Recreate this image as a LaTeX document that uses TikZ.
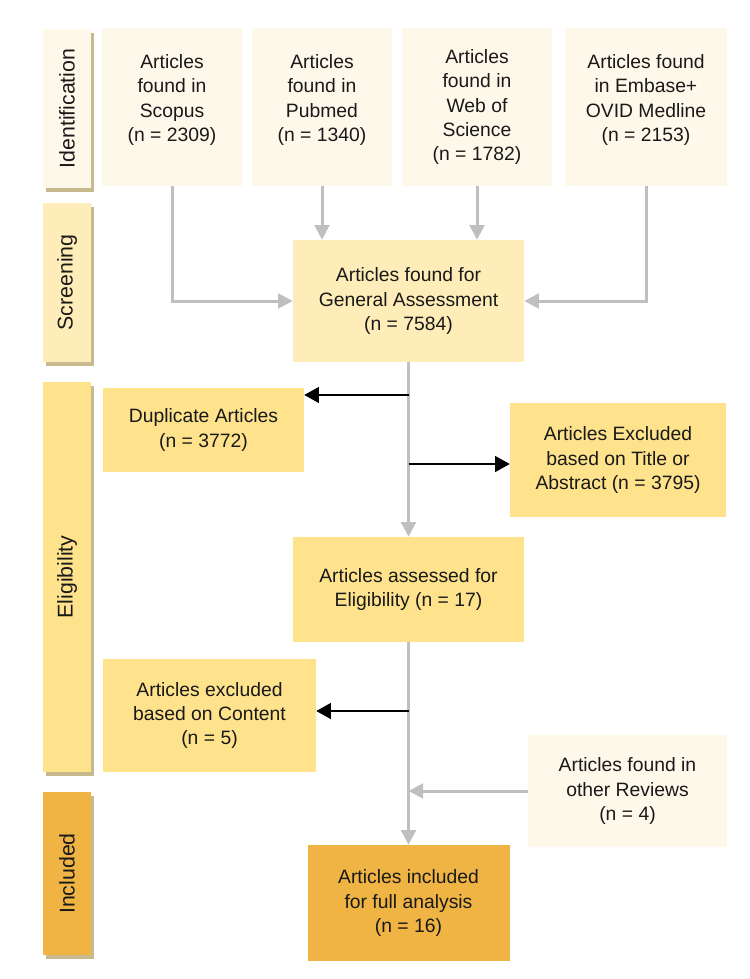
\documentclass[tikz,border=0pt]{standalone}
\usepackage{graphicx}
\usepackage{fontspec}
\setmainfont{Liberation Sans}
\usepackage{tikz}
\usetikzlibrary{arrows.meta, positioning, shadows, calc}

\definecolor{creamfill}{HTML}{FEF8EA}
\definecolor{palefill}{HTML}{FEEDB8}
\definecolor{midfill}{HTML}{FEE28C}
\definecolor{darkfill}{HTML}{EFB443}
\definecolor{tanshadow}{HTML}{C8B98F}
\definecolor{flowgray}{HTML}{BFBFBF}

\begin{document}
\begin{tikzpicture}[
    x=0.75pt, y=-0.75pt,
    boxsize/.style args={#1x#2}{minimum width=#1*0.75pt, minimum height=#2*0.75pt},
    box/.style={rectangle, inner sep=2pt, align=center, text=black!90, font=\fontsize{14.5}{18.3}\selectfont},
    stage/.style={box, font=\fontsize{16}{19}\selectfont, drop shadow={shadow xshift=2.5pt, shadow yshift=-3pt, fill=tanshadow, opacity=1}},
    source/.style={box, fill=creamfill},
    grayline/.style={draw=flowgray, line width=2.25pt, -{Triangle[length=11pt, width=11pt]}},
    blackline/.style={draw=black, line width=0.9pt, -{Triangle[length=11pt, width=12pt]}}
]
    \useasboundingbox (0,0) rectangle (750,979);

    % stages
    \node[stage, fill=creamfill, boxsize=48x159] (identification) at (67,108.5) {\rotatebox{90}{Identification}};
    \node[stage, fill=palefill, boxsize=48x159] (screening) at (67,282.5) {\rotatebox{90}{Screening}};
    \node[stage, fill=midfill, boxsize=48x390] (eligibility) at (67,577) {\rotatebox{90}{Eligibility}};
    \node[stage, fill=darkfill, boxsize=48x163] (includedstage) at (67,873.5) {\rotatebox{90}{Included}};

    % databases
    \node[source, boxsize=140x158] (scopus) at (172,107) {Articles\\found in\\Scopus\\(n = 2309)\\[-10pt]\strut};
    \node[source, boxsize=140x158] (pubmed) at (322,107) {Articles\\found in\\Pubmed\\(n = 1340)\\[-10pt]\strut};
    \node[source, boxsize=150x158] (wos) at (477,107) {Articles\\found in\\Web of\\Science\\(n = 1782)};
    \node[source, boxsize=162x158] (embase) at (646,107) {Articles found\\in Embase+\\OVID Medline\\(n = 2153)\\[-10pt]\strut};

    \node[box, fill=palefill, boxsize=231x122] (general) at (408.5,301) {Articles found for\\General Assessment\\(n = 7584)};
    \node[box, fill=midfill, boxsize=201x84] (duplicate) at (203.5,430) {Duplicate Articles\\(n = 3772)};
    \node[box, fill=midfill, boxsize=216x114] (titleexcl) at (618,460) {Articles Excluded\\based on Title or\\Abstract (n = 3795)};
    \node[box, fill=midfill, boxsize=231x105] (assessed) at (408.5,589.5) {Articles assessed for\\Eligibility (n = 17)};
    \node[box, fill=midfill, boxsize=213x113] (contentexcl) at (209.5,715.5) {Articles excluded\\based on Content\\(n = 5)};
    \node[source, boxsize=199x112] (reviews) at (627.5,791) {Articles found in\\other Reviews\\(n = 4)};
    \node[box, fill=darkfill, boxsize=202x116] (final) at (408.5,903) {Articles included\\for full analysis\\(n = 16)};

    \coordinate (tap1) at (general.south |- 0,395);
    \coordinate (tap2) at (general.south |- 0,464);
    \coordinate (tap3) at (assessed.south |- 0,711);

    \draw[grayline] (scopus.south) |- (general.west);
    \draw[grayline] (pubmed.south) -- (pubmed.south |- general.north);
    \draw[grayline] (wos.south) -- (wos.south |- general.north);
    \draw[grayline] (embase.south) |- (general.east);

    \draw[grayline] (general) -- (assessed);
    \draw[blackline] (tap1) -- (tap1 -| duplicate.east);
    \draw[blackline] (tap2) -- (tap2 -| titleexcl.west);

    \draw[grayline] (assessed) -- (final);
    \draw[blackline] (tap3) -- (tap3 -| contentexcl.east);
    \draw[grayline] (reviews.west) -- (reviews.west -| assessed.south);
\end{tikzpicture}
\end{document}
